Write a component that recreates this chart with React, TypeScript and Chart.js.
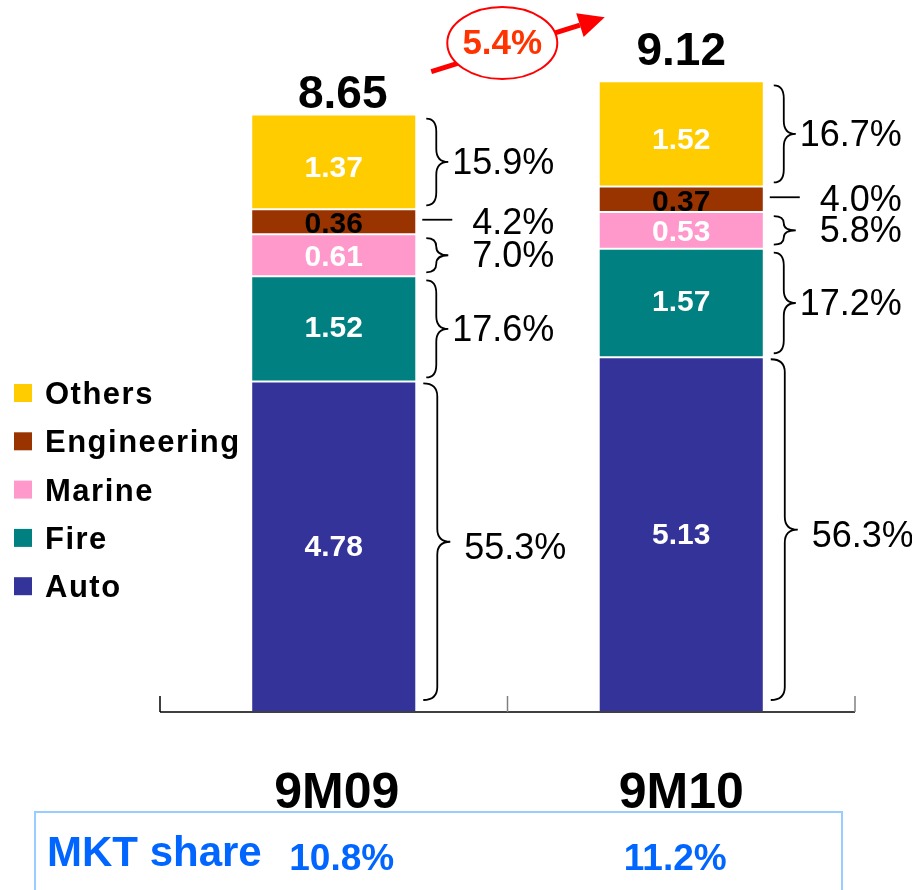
import React, { useEffect, useRef } from "react";
import { Chart, registerables } from "chart.js";

Chart.register(...registerables);

// ---------- data ----------
const categories = ["9M09", "9M10"];
const seriesNames = ["Auto", "Fire", "Marine", "Engineering", "Others"];
const autoValues = [4.78, 5.13];
const fireValues = [1.52, 1.57];
const marineValues = [0.61, 0.53];
const engineeringValues = [0.36, 0.37];
const othersValues = [1.37, 1.52];
const totalLabels = ["8.65", "9.12"];
// share of each line in the total, order: Auto, Fire, Marine, Engineering, Others
const sharePct9M09 = ["55.3%", "17.6%", "7.0%", "4.2%", "15.9%"];
const sharePct9M10 = ["56.3%", "17.2%", "5.8%", "4.0%", "16.7%"];
const growthLabel = "5.4%";
const mktShareTitle = "MKT share";
const mktShareValues = ["10.8%", "11.2%"];

// ---------- style ----------
const seriesColors = ["#333399", "#008080", "#FF99CC", "#993300", "#FFCC00"];
const labelColors = ["#FFFFFF", "#FFFFFF", "#FFFFFF", "#000000", "#FFFFFF"];
const FONT = '"Liberation Sans", Arial, Helvetica, sans-serif';

const sharePcts = [sharePct9M09, sharePct9M10];
const seriesValues = [autoValues, fireValues, marineValues, engineeringValues, othersValues];

function drawBrace(
  ctx: CanvasRenderingContext2D,
  x0: number,
  top: number,
  bottom: number,
  arm: number,
  depth: number
) {
  const mid = (top + bottom) / 2;
  const xm = x0 + arm;
  const xt = x0 + depth;
  const r = Math.min(13, (bottom - top) / 4);
  ctx.beginPath();
  ctx.moveTo(x0, top);
  ctx.quadraticCurveTo(xm, top, xm, top + r);
  ctx.lineTo(xm, mid - r);
  ctx.quadraticCurveTo(xm, mid, xt, mid);
  ctx.quadraticCurveTo(xm, mid, xm, mid + r);
  ctx.lineTo(xm, bottom - r);
  ctx.quadraticCurveTo(xm, bottom, x0, bottom);
  ctx.stroke();
}

const overlayPlugin = {
  id: "overlay",
  afterDatasetsDraw(chart: any) {
    const ctx: CanvasRenderingContext2D = chart.ctx;
    const area = chart.chartArea;
    const xs = chart.scales.x;
    ctx.save();

    // axis line and tick marks
    ctx.strokeStyle = "#000";
    ctx.lineWidth = 1.5;
    ctx.beginPath();
    ctx.moveTo(area.left, area.bottom);
    ctx.lineTo(area.right, area.bottom);
    ctx.stroke();
    const n = categories.length;
    for (let i = 0; i <= n; i++) {
      let px: number;
      if (i === 0) px = area.left;
      else if (i === n) px = area.right;
      else px = (xs.getPixelForValue(i - 1) + xs.getPixelForValue(i)) / 2;
      ctx.strokeStyle = i === 0 ? "#000" : "#808080";
      ctx.lineWidth = 1.5;
      ctx.beginPath();
      ctx.moveTo(px, area.bottom - 16);
      ctx.lineTo(px, area.bottom);
      ctx.stroke();
    }

    const labelOffsets = [1, 0, 2, 3, 7];
    const barTops: number[] = [];
    const barRights: number[] = [];
    const barLefts: number[] = [];

    for (let i = 0; i < n; i++) {
      let top = Infinity;
      let right = 0;
      let left = 0;
      let cx = 0;
      chart.data.datasets.forEach((ds: any, d: number) => {
        const el = chart.getDatasetMeta(d).data[i];
        const segTop = Math.min(el.y, el.base);
        const segBot = Math.max(el.y, el.base);
        top = Math.min(top, segTop);
        right = el.x + el.width / 2;
        left = el.x - el.width / 2;
        cx = el.x;
        const midY = (segTop + segBot) / 2;

        // value label in segment
        ctx.font = `bold 30px ${FONT}`;
        ctx.fillStyle = labelColors[d];
        ctx.textAlign = "center";
        ctx.textBaseline = "middle";
        ctx.fillText(ds.data[i].toFixed(2), el.x, midY + labelOffsets[d]);

        // brace / dash + percentage
        ctx.strokeStyle = "#000";
        ctx.lineWidth = 1.8;
        if (d === 3) {
          ctx.beginPath();
          ctx.moveTo(right + 6, midY - 2);
          ctx.lineTo(right + 36, midY - 2);
          ctx.stroke();
        } else if (d === 0) {
          drawBrace(ctx, right + 7, segTop + 2, segBot - 12, 14, 27);
        } else {
          drawBrace(ctx, right + 10, segTop + 4, segBot - 4, 10, 22);
        }
        ctx.font = `36px ${FONT}`;
        ctx.fillStyle = "#000";
        ctx.textAlign = "right";
        ctx.textBaseline = "middle";
        ctx.fillText(sharePcts[i][d], right + (d === 0 ? 150 : 138), midY + 2);
      });
      barTops.push(top);
      barRights.push(right);
      barLefts.push(left);

      // total label
      ctx.font = `bold 46px ${FONT}`;
      ctx.fillStyle = "#000";
      ctx.textAlign = "center";
      ctx.textBaseline = "alphabetic";
      ctx.fillText(totalLabels[i], cx + (i === 0 ? 9 : 0), top - (i === 0 ? 7 : 16));

      // category label
      ctx.font = `bold 50px ${FONT}`;
      ctx.fillText(categories[i], xs.getPixelForValue(i) + (i === 0 ? 3 : 0), 808);
    }

    // growth arrow
    const sx = barRights[0] + 15;
    const sy = barTops[0] - 43;
    const ex = barLefts[1] + 6;
    const ey = barTops[1] - 64;
    const dx = ex - sx;
    const dy = ey - sy;
    const len = Math.hypot(dx, dy);
    const ux = dx / len;
    const uy = dy / len;
    const headLen = 26;
    const bx = ex - ux * headLen;
    const by = ey - uy * headLen;
    ctx.strokeStyle = "#FF0000";
    ctx.fillStyle = "#FF0000";
    ctx.lineWidth = 5;
    ctx.beginPath();
    ctx.moveTo(sx, sy);
    ctx.lineTo(bx, by);
    ctx.stroke();
    ctx.beginPath();
    ctx.moveTo(ex, ey);
    ctx.lineTo(bx - uy * 12.5, by + ux * 12.5);
    ctx.lineTo(bx + uy * 12.5, by - ux * 12.5);
    ctx.closePath();
    ctx.fill();

    // ellipse with growth label
    const ecx = sx + 71;
    const ecy = sy - 28.5;
    ctx.beginPath();
    ctx.ellipse(ecx, ecy, 55, 36, 0, 0, Math.PI * 2);
    ctx.fillStyle = "#FFFFFF";
    ctx.fill();
    ctx.lineWidth = 2;
    ctx.strokeStyle = "#FF0000";
    ctx.stroke();
    ctx.font = `bold 35px ${FONT}`;
    ctx.fillStyle = "#FF3300";
    ctx.textAlign = "center";
    ctx.textBaseline = "middle";
    ctx.fillText(growthLabel, ecx, ecy + 1.5);

    // legend (custom, reversed order)
    const dsCount = chart.data.datasets.length;
    for (let k = 0; k < dsCount; k++) {
      const d = dsCount - 1 - k;
      const ds = chart.data.datasets[d];
      const cy = 393 + k * 48.3;
      ctx.fillStyle = ds.backgroundColor;
      ctx.fillRect(14, cy - 9, 18, 18);
      ctx.fillStyle = "#000";
      ctx.font = `bold 31px ${FONT}`;
      (ctx as any).letterSpacing = "1.5px";
      ctx.textAlign = "left";
      ctx.textBaseline = "alphabetic";
      ctx.fillText(ds.label, 45, cy + 11);
      (ctx as any).letterSpacing = "0px";
    }

    // market share box
    ctx.strokeStyle = "#99CCFF";
    ctx.lineWidth = 2;
    ctx.strokeRect(35, 812, 807, 100);
    ctx.fillStyle = "#0066FF";
    ctx.font = `bold 42px ${FONT}`;
    ctx.textAlign = "left";
    ctx.textBaseline = "alphabetic";
    ctx.fillText(mktShareTitle, 47, 866);
    ctx.font = `bold 37px ${FONT}`;
    ctx.textAlign = "center";
    for (let i = 0; i < n; i++) {
      ctx.fillText(mktShareValues[i], xs.getPixelForValue(i) + (i === 0 ? 8 : -6), 870);
    }

    ctx.restore();
  },
};

export default function App() {
  const canvasRef = useRef<HTMLCanvasElement | null>(null);

  useEffect(() => {
    const canvas = canvasRef.current;
    if (!canvas) return;
    const chart = new Chart(canvas, {
      type: "bar",
      data: {
        labels: categories,
        datasets: seriesNames.map((name, d) => ({
          label: name,
          data: seriesValues[d],
          backgroundColor: seriesColors[d],
          borderColor: "#FFFFFF",
          borderWidth: 1,
          borderSkipped: false,
          categoryPercentage: 0.475,
          barPercentage: 1,
        })),
      },
      options: {
        responsive: false,
        maintainAspectRatio: false,
        animation: false,
        devicePixelRatio: 1,
        layout: { padding: { left: 160, right: 57, top: 20.5, bottom: 178 } },
        plugins: { legend: { display: false }, tooltip: { enabled: false } },
        scales: {
          x: { stacked: true, display: false, offset: true },
          y: { stacked: true, display: false, min: 0, max: 10 },
        },
      },
      plugins: [overlayPlugin],
    });
    return () => chart.destroy();
  }, []);

  return (
    <div style={{ position: "absolute", left: 0, top: 0, width: 912, height: 890, background: "#fff" }}>
      <canvas ref={canvasRef} width={912} height={890} style={{ display: "block" }} />
    </div>
  );
}
